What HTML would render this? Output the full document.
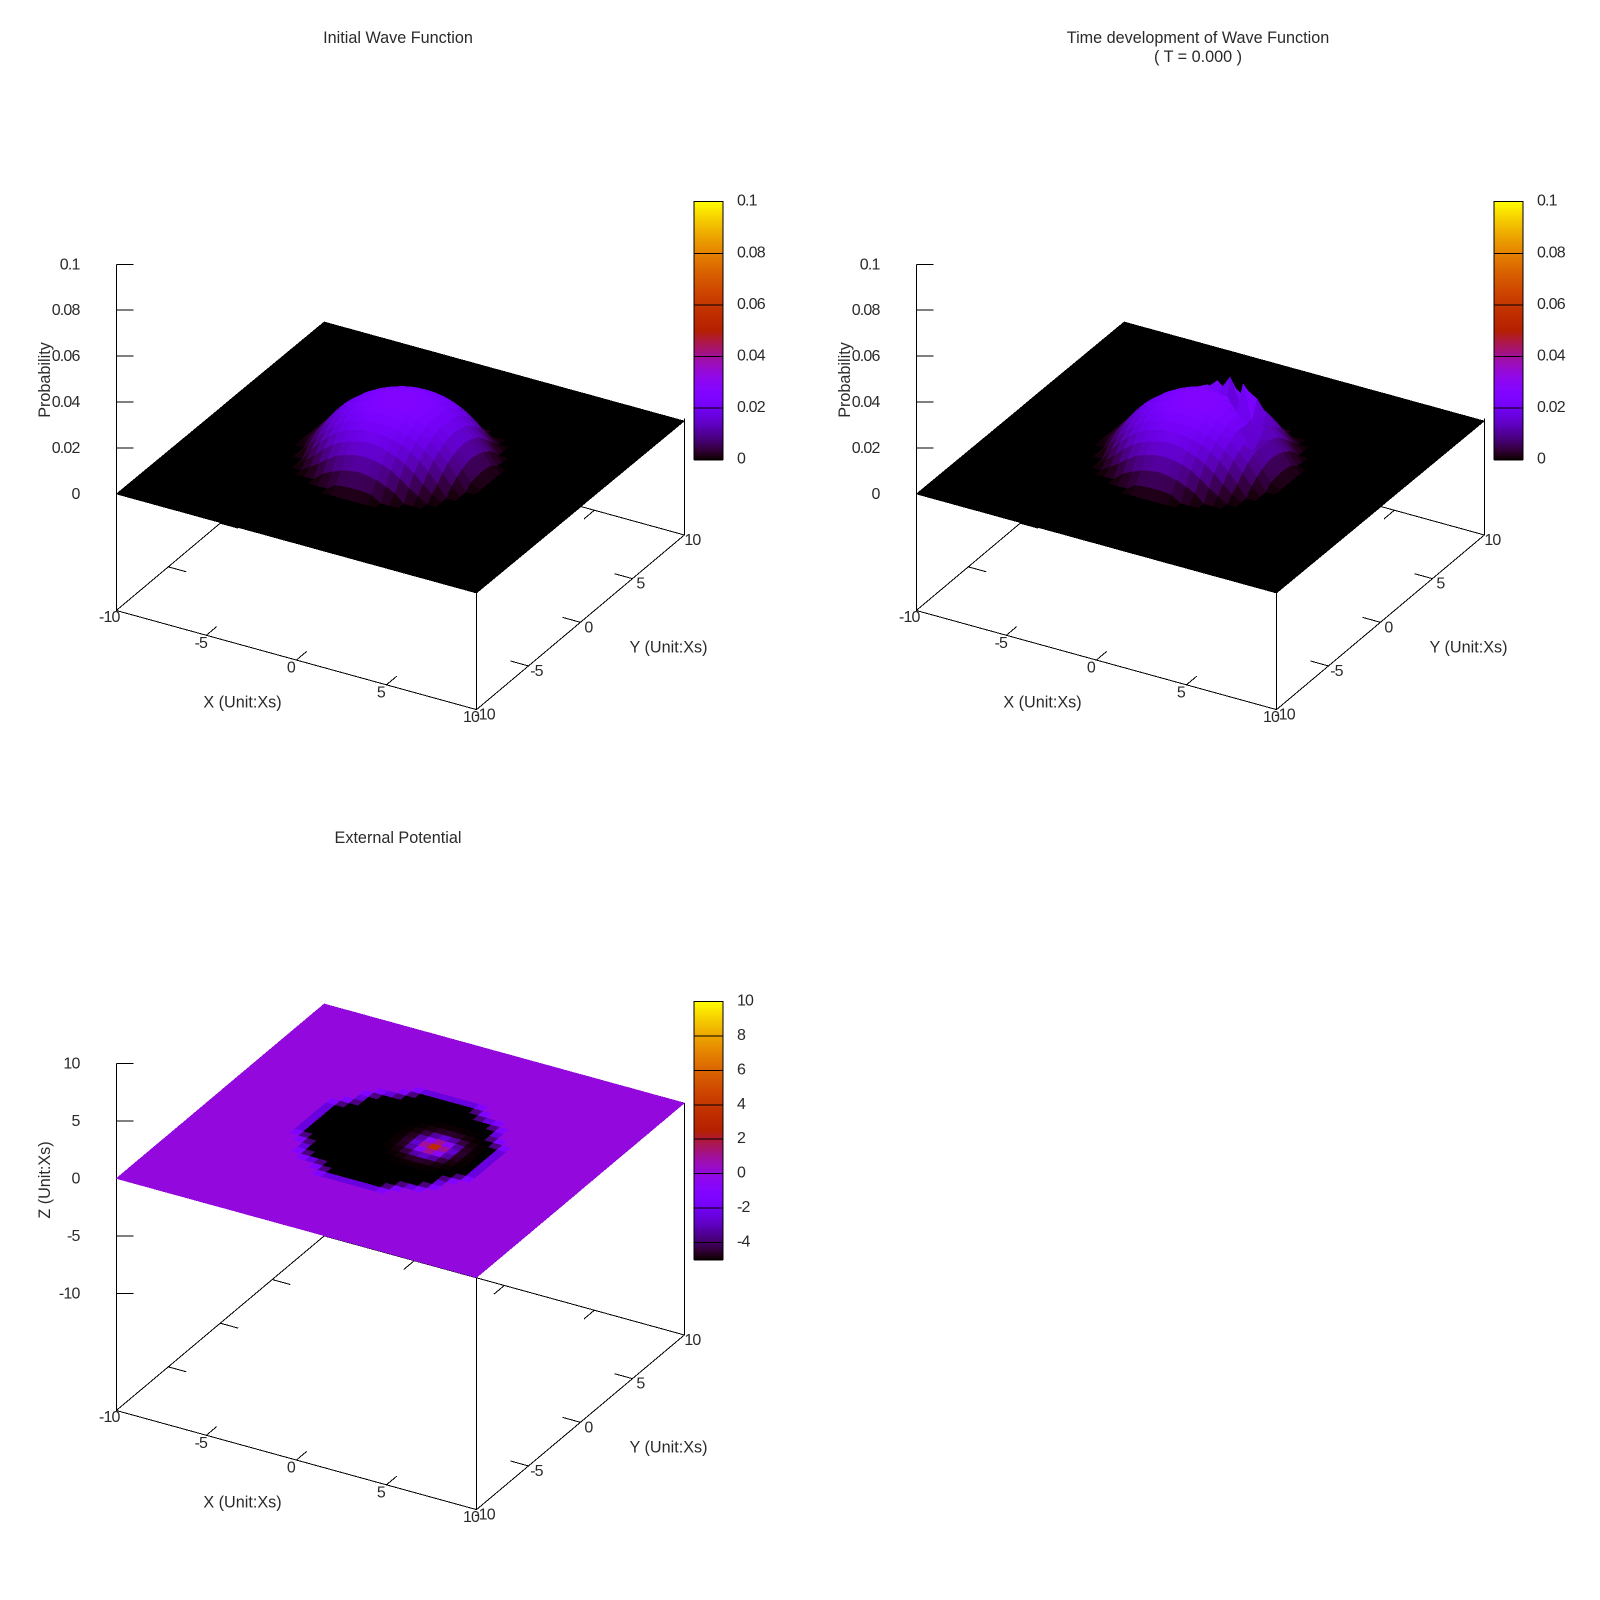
<!DOCTYPE html>
<html>
<head>
<meta charset="utf-8">
<title>Wave Function Plots</title>
<style>
html,body{margin:0;padding:0;background:#fff;}
svg{display:block;position:absolute;left:0;top:0;}
text{font-family:"Liberation Sans",Arial,sans-serif;fill:#2a2a2a;}
.lbl{font-size:16.2px;}
.num{font-size:16px;letter-spacing:-0.85px;}
</style>
</head>
<body>
<svg id="chart" xmlns="http://www.w3.org/2000/svg" width="1600" height="1600" viewBox="0 0 1600 1600">
<rect x="0" y="0" width="1600" height="1600" fill="#fff"/>
<g id="p1"></g>
<g id="p2" transform="translate(800,0)"></g>
<g id="p3" transform="translate(0,800)"></g>
<text class="lbl" x="398" y="43" text-anchor="middle">Initial Wave Function</text>
<text class="lbl" x="1198" y="43" text-anchor="middle">Time development of Wave Function</text>
<text class="lbl" x="1198" y="62" text-anchor="middle">( T = 0.000 )</text>
<text class="lbl" x="398" y="843" text-anchor="middle">External Potential</text>
<text class="lbl" x="242.5" y="707.5" text-anchor="middle">X (Unit:Xs)</text>
<text class="lbl" x="668.5" y="652.5" text-anchor="middle">Y (Unit:Xs)</text>
<text class="lbl" x="0" y="0" text-anchor="middle" transform="translate(50,380) rotate(-90)">Probability</text>
<text class="lbl" x="1042.5" y="707.5" text-anchor="middle">X (Unit:Xs)</text>
<text class="lbl" x="1468.5" y="652.5" text-anchor="middle">Y (Unit:Xs)</text>
<text class="lbl" x="0" y="0" text-anchor="middle" transform="translate(850,380) rotate(-90)">Probability</text>
<text class="lbl" x="242.5" y="1507.5" text-anchor="middle">X (Unit:Xs)</text>
<text class="lbl" x="668.5" y="1452.5" text-anchor="middle">Y (Unit:Xs)</text>
<text class="lbl" x="0" y="0" text-anchor="middle" transform="translate(50,1180) rotate(-90)">Z (Unit:Xs)</text>
</svg>
<script>
// Axis data
const xTickValues = [-10, -5, 0, 5, 10];
const yTickValues = [-10, -5, 0, 5, 10];
const probZTicks = [0, 0.02, 0.04, 0.06, 0.08, 0.1];
const potZTicks = [-10, -5, 0, 5, 10];
const probCbTicks = [0, 0.02, 0.04, 0.06, 0.08, 0.1];
const potCbTicks = [-4, -2, 0, 2, 4, 6, 8, 10];

// Probability x 1000 on grid nodes x,y = -5..5 step 0.5 (rows: y ascending, columns: x ascending). Zero elsewhere.
const probInitialRows = [
[0,0,0,0,0,0,0,0,0,0,0,0,0,0,0,0,0,0,0,0,0],
[0,0,0,0,0,0,0,0,2.5,3,3.2,3,2.5,0,0,0,0,0,0,0,0],
[0,0,0,0,0,0,3.5,5.5,7,8,8.5,8,7,5.5,3.5,0,0,0,0,0,0],
[0,0,0,0,2.5,5,8,10.5,12,13,13.3,13,12,10.5,8,5,2.5,0,0,0,0],
[0,0,0,2.5,5.8,9.5,12.4,14.5,16,17,17.5,17,16,14.5,12.4,9.5,5.8,2.5,0,0,0],
[0,0,0,5,9.5,13,15.7,18.0,19.2,19.9,20.1,19.9,19.2,18.0,15.7,13,9.5,5,0,0,0],
[0,0,3.5,8,12.4,15.7,18.4,20.1,21.3,22.1,22.3,22.1,21.3,20.1,18.4,15.7,12.4,8,3.5,0,0],
[0,0,5.5,10.5,14.5,18.0,20.1,21.8,23.0,23.8,24.0,23.8,23.0,21.8,20.1,18.0,14.5,10.5,5.5,0,0],
[0,2.5,7,12,16,19.2,21.3,23.0,24.3,25.0,25.2,25.0,24.3,23.0,21.3,19.2,16,12,7,2.5,0],
[0,3,8,13,17,19.9,22.1,23.8,25.0,25.7,26.0,25.7,25.0,23.8,22.1,19.9,17,13,8,3,0],
[0,3.2,8.5,13.3,17.5,20.1,22.3,24.0,25.2,26.0,26.2,26.0,25.2,24.0,22.3,20.1,17.5,13.3,8.5,3.2,0],
[0,3,8,13,17,19.9,22.1,23.8,25.0,25.7,26.0,25.7,25.0,23.8,22.1,19.9,17,13,8,3,0],
[0,2.5,7,12,16,19.2,21.3,23.0,24.3,25.0,25.2,25.0,24.3,23.0,21.3,19.2,16,12,7,2.5,0],
[0,0,5.5,10.5,14.5,18.0,20.1,21.8,23.0,23.8,24.0,23.8,23.0,21.8,20.1,18.0,14.5,10.5,5.5,0,0],
[0,0,3.5,8,12.4,15.7,18.4,20.1,21.3,22.1,22.3,22.1,21.3,20.1,18.4,15.7,12.4,8,3.5,0,0],
[0,0,0,5,9.5,13,15.7,18.0,19.2,19.9,20.1,19.9,19.2,18.0,15.7,13,9.5,5,0,0,0],
[0,0,0,2.5,5.8,9.5,12.4,14.5,16,17,17.5,17,16,14.5,12.4,9.5,5.8,2.5,0,0,0],
[0,0,0,0,2.5,5,8,10.5,12,13,13.3,13,12,10.5,8,5,2.5,0,0,0,0],
[0,0,0,0,0,0,3.5,5.5,7,8,8.5,8,7,5.5,3.5,0,0,0,0,0,0],
[0,0,0,0,0,0,0,0,2.5,3,3.2,3,2.5,0,0,0,0,0,0,0,0],
[0,0,0,0,0,0,0,0,0,0,0,0,0,0,0,0,0,0,0,0,0]
];

const probEvolvedRows = [
[0,0,0,0,0,0,0,0,0,0,0,0,0,0,0,0,0,0,0,0,0],
[0,0,0,0,0,0,0,0,2.5,3,3.2,3,2.5,0,0,0,0,0,0,0,0],
[0,0,0,0,0,0,3.5,5.5,7,8,8.5,8,7,5.5,3.5,0,0,0,0,0,0],
[0,0,0,0,2.5,5,8,10.5,12,13,13.3,13,12,10.5,8,5,2.5,0,0,0,0],
[0,0,0,2.5,5.8,9.5,12.4,14.5,16,17,17.5,17,16,14.5,12.4,9.5,5.8,2.5,0,0,0],
[0,0,0,5,9.5,13,15.7,18.0,19.2,19.9,20.1,19.9,19.2,18.0,15.7,13,9.5,5,0,0,0],
[0,0,3.5,8,12.4,15.7,18.4,20.1,21.3,22.1,22.3,22.1,21.3,20.1,18.4,15.7,12.4,8,3.5,0,0],
[0,0,5.5,10.5,14.5,18.0,20.1,21.8,23.0,23.8,24.0,23.8,23.0,21.8,20.1,18.0,14.5,10.5,5.5,0,0],
[0,2.5,7,12,16,19.2,21.3,23.0,24.3,25.0,25.2,25.0,24.3,23.0,21.3,19.2,16,12,7,2.5,0],
[0,3,8,13,17,19.9,22.1,23.8,25.0,25.7,26.0,25.7,25.0,23.8,22.1,19.9,12,13,8,3,0],
[0,3.2,8.5,13.3,17.5,20.1,22.3,24.0,25.2,26.0,26.2,26.0,25.2,24.0,22.3,19,10,12,8.5,3.2,0],
[0,3,8,13,17,19.9,22.1,23.8,25.0,25.7,26.0,25.7,25.0,23.8,19,20,12,13,8,3,0],
[0,2.5,7,12,16,19.2,21.3,23.0,24.3,25.0,25.2,25.0,24.3,14,21,14,16,12,7,2.5,0],
[0,0,5.5,10.5,14.5,18.0,20.1,21.8,23.0,25,18,8,10,29.6,14,12,14.5,10.5,5.5,0,0],
[0,0,3.5,8,12.4,15.7,18.4,20.1,21.3,22.1,22.3,28.6,19,24.6,22.2,16.8,12.4,8,3.5,0,0],
[0,0,0,5,9.5,13,15.7,18.0,19.2,23,20.1,22,19.2,18.0,15.7,13,9.5,5,0,0,0],
[0,0,0,2.5,5.8,9.5,12.4,14.5,16,17,17.5,17,16,14.5,12.4,9.5,5.8,2.5,0,0,0],
[0,0,0,0,2.5,5,8,10.5,12,13,13.3,13,12,10.5,8,5,2.5,0,0,0,0],
[0,0,0,0,0,0,3.5,5.5,7,8,8.5,8,7,5.5,3.5,0,0,0,0,0,0],
[0,0,0,0,0,0,0,0,2.5,3,3.2,3,2.5,0,0,0,0,0,0,0,0],
[0,0,0,0,0,0,0,0,0,0,0,0,0,0,0,0,0,0,0,0,0]
];

// External potential on the same node window. Zero elsewhere.
const potentialRows = [
[0,0,0,0,0,0,0,0,0,0,0,0,0,0,0,0,0,0,0,0,0],
[0,0,0,0,0,0,0,-5,-5,-5,-5,-5,-5,-5,0,0,0,0,0,0,0],
[0,0,0,0,0,0,-5,-5,-5,-5,-5,-5,-5,-5,-5,0,0,0,0,0,0],
[0,0,0,0,-5,-5,-5,-5,-5,-5,-5,-5,-5,-5,-5,-5,-5,0,0,0,0],
[0,0,0,-5,-5,-5,-5,-5,-5,-5,-5,-5,-5,-5,-5,-5,-5,-5,0,0,0],
[0,0,0,-5,-5,-5,-5,-5,-5,-5,-5,-5,-5,-5,-5,-5,-5,-5,0,0,0],
[0,0,-5,-5,-5,-5,-5,-5,-5,-5,-5,-5,-5,-5,-5,-5,-5,-5,-5,0,0],
[0,-5,-5,-5,-5,-5,-5,-5,-5,-5,-5,-5,-4.97,-4.93,-4.93,-4.97,-5,-5,-5,-5,0],
[0,-5,-5,-5,-5,-5,-5,-5,-5,-5,-5,-4.93,-4.65,-4.22,-4.22,-4.65,-4.93,-5,-5,-5,0],
[0,-5,-5,-5,-5,-5,-5,-5,-5,-5,-4.97,-4.65,-3.29,-1.25,-1.25,-3.29,-4.65,-4.97,-5,-5,0],
[0,-5,-5,-5,-5,-5,-5,-5,-5,-5,-4.93,-4.22,-1.25,3.25,3.25,-1.25,-4.22,-4.93,-5,-5,0],
[0,-5,-5,-5,-5,-5,-5,-5,-5,-5,-4.93,-4.22,-1.25,3.25,3.25,-1.25,-4.22,-4.93,-5,-5,0],
[0,-5,-5,-5,-5,-5,-5,-5,-5,-5,-4.97,-4.65,-3.29,-1.25,-1.25,-3.29,-4.65,-4.97,-5,-5,0],
[0,-5,-5,-5,-5,-5,-5,-5,-5,-5,-5,-4.93,-4.65,-4.22,-4.22,-4.65,-4.93,-5,-5,-5,0],
[0,0,-5,-5,-5,-5,-5,-5,-5,-5,-5,-5,-4.97,-4.93,-4.93,-4.97,-5,-5,-5,0,0],
[0,0,0,-5,-5,-5,-5,-5,-5,-5,-5,-5,-5,-5,-5,-5,-5,-5,0,0,0],
[0,0,0,-5,-5,-5,-5,-5,-5,-5,-5,-5,-5,-5,-5,-5,-5,-5,0,0,0],
[0,0,0,0,-5,-5,-5,-5,-5,-5,-5,-5,-5,-5,-5,-5,-5,0,0,0,0],
[0,0,0,0,0,0,-5,-5,-5,-5,-5,-5,-5,-5,-5,0,0,0,0,0,0],
[0,0,0,0,0,0,0,-5,-5,-5,-5,-5,-5,-5,0,0,0,0,0,0,0],
[0,0,0,0,0,0,0,0,0,0,0,0,0,0,0,0,0,0,0,0,0]
];

const NS = 'http://www.w3.org/2000/svg';
const GRID_CELLS = 40;
const WINDOW_START = 10;

// Projection: x=-10,y=-10 is the left base corner
const LEFT_X = 116.3, BASE_Y = 610.5;
const XV = [360.2, 99.1], YV = [207.9, -174.6];
function sx(x, y) { return LEFT_X + (x + 10) / 20 * XV[0] + (y + 10) / 20 * YV[0]; }
function sy(x, y) { return BASE_Y + (x + 10) / 20 * XV[1] + (y + 10) / 20 * YV[1]; }

function make(tag, parent, attrs) {
  const e = document.createElementNS(NS, tag);
  for (const k in attrs) e.setAttribute(k, attrs[k]);
  parent.appendChild(e);
  return e;
}
function palette(t) {
  t = Math.max(0, Math.min(1, t));
  const r = Math.sqrt(t), g = t * t * t, b = Math.max(0, Math.sin(2 * Math.PI * t));
  return 'rgb(' + Math.round(r * 255) + ',' + Math.round(g * 255) + ',' + Math.round(b * 255) + ')';
}
function nodeValue(rows, i, j) {
  const c = i - WINDOW_START, r = j - WINDOW_START;
  if (r < 0 || r >= rows.length || c < 0 || c >= rows[r].length) return 0;
  return rows[r][c];
}
function axisLine(g, x1, y1, x2, y2, name) {
  const l = make('line', g, {x1: x1, y1: y1, x2: x2, y2: y2, stroke: '#000', 'stroke-width': 1, 'shape-rendering': 'crispEdges'});
  
  
  return l;
}
function tickLabel(g, x, yCenter, str, anchor, name) {
  const t = make('text', g, {x: x, y: yCenter + 5.5, 'text-anchor': anchor, 'class': 'num'});
  t.textContent = str;
  
  
  return t;
}

function drawPanel(g, cfg) {
  const zY = function (z) { return cfg.lift(z); };
  // base frame
  axisLine(g, sx(-10, -10), sy(-10, -10), sx(10, -10), sy(10, -10), 'x-axis-front');
  axisLine(g, sx(10, -10), sy(10, -10), sx(10, 10), sy(10, 10), 'y-axis-front');
  axisLine(g, sx(-10, -10), sy(-10, -10), sx(-10, 10), sy(-10, 10), 'y-axis-back');
  axisLine(g, sx(-10, 10), sy(-10, 10), sx(10, 10), sy(10, 10), 'x-axis-back');
  // verticals
  const zTop = cfg.zTicks[cfg.zTicks.length - 1];
  axisLine(g, sx(-10, -10), sy(-10, -10), sx(-10, -10), BASE_Y - zY(zTop), 'z-axis');
  axisLine(g, sx(10, -10), sy(10, -10), sx(10, -10), sy(10, -10) - zY(cfg.planeZ), 'front-vertical-edge');
  axisLine(g, sx(10, 10), sy(10, 10), sx(10, 10), sy(10, 10) - zY(cfg.planeZ), 'right-vertical-edge');
  // x/y ticks
  const tx = 0.05;
  xTickValues.forEach(function (v) {
    if (Math.abs(v) === 10) return;
    axisLine(g, sx(v, -10), sy(v, -10), sx(v, -10) + tx * YV[0], sy(v, -10) + tx * YV[1], 'x-tick-front');
    axisLine(g, sx(v, 10), sy(v, 10), sx(v, 10) - tx * YV[0], sy(v, 10) - tx * YV[1], 'x-tick-back');
  });
  yTickValues.forEach(function (v) {
    if (Math.abs(v) === 10) return;
    axisLine(g, sx(10, v), sy(10, v), sx(10, v) - tx * XV[0], sy(10, v) - tx * XV[1], 'y-tick-front');
    axisLine(g, sx(-10, v), sy(-10, v), sx(-10, v) + tx * XV[0], sy(-10, v) + tx * XV[1], 'y-tick-back');
  });
  // x/y tick labels
  xTickValues.forEach(function (v) {
    const dx = v === -10 ? -7 : -5.5;
    const dy = v === -10 ? 6 : 7;
    tickLabel(g, sx(v, -10) + dx, sy(v, -10) + dy, String(v), 'middle', 'x-tick-label');
  });
  yTickValues.forEach(function (v) {
    tickLabel(g, sx(10, v) + 8, sy(10, v) + 4.5, String(v), 'middle', 'y-tick-label');
  });
  // z ticks
  cfg.zTicks.forEach(function (z) {
    const y = BASE_Y - zY(z);
    axisLine(g, LEFT_X, y, LEFT_X + 17, y, 'z-tick');
    tickLabel(g, 79.5, y - 0.5, String(z), 'end', 'z-tick-label');
  });
  // surface
  const surf = make('g', g, {'shape-rendering': 'crispEdges'});
  
  
  const step = 20 / GRID_CELLS;
  for (let j = GRID_CELLS - 1; j >= 0; j--) {
    for (let i = 0; i < GRID_CELLS; i++) {
      const a = nodeValue(cfg.rows, i, j), b = nodeValue(cfg.rows, i + 1, j);
      const c = nodeValue(cfg.rows, i + 1, j + 1), d = nodeValue(cfg.rows, i, j + 1);
      const mean = (a + b + c + d) / 4;
      const x0 = -10 + i * step, x1 = x0 + step, y0 = -10 + j * step, y1 = y0 + step;
      const pt = function (x, y, v) {
        const tilt = (y + 10) / 20 * cfg.planeTilt;
        return sx(x, y).toFixed(1) + ',' + (sy(x, y) + tilt - zY(cfg.height(v))).toFixed(1);
      };
      const col = palette((cfg.value(mean) - cfg.cbMin) / (cfg.cbMax - cfg.cbMin));
      const p = make('polygon', surf, {
        points: pt(x0, y0, a) + ' ' + pt(x1, y0, b) + ' ' + pt(x1, y1, c) + ' ' + pt(x0, y1, d),
        fill: col, stroke: col, 'stroke-width': 0.6
      });
      
      
    }
  }
  // colour box
  const CB_X = 694, CB_W = 29, CB_TOP = 201.7, CB_H = 257.8;
  const cbY = function (v) { return CB_TOP + CB_H - (v - cfg.cbMin) / (cfg.cbMax - cfg.cbMin) * CB_H; };
  const box = make('g', g, {'shape-rendering': 'crispEdges'});
  
  
  const CB_STEPS = 129;
  for (let k = 0; k < CB_STEPS; k++) {
    const t = 1 - (k + 0.5) / CB_STEPS;
    const r = make('rect', box, {x: CB_X, y: CB_TOP + k * CB_H / CB_STEPS, width: CB_W, height: CB_H / CB_STEPS + 1, fill: palette(t)});
    
    
  }
  const frame = make('rect', box, {x: CB_X, y: CB_TOP, width: CB_W, height: CB_H, fill: 'none', stroke: '#000', 'stroke-width': 1});
  
  
  cfg.cbTicks.forEach(function (v) {
    const y = cbY(v);
    axisLine(box, CB_X, y, CB_X + CB_W, y, 'colorbar-tick');
    tickLabel(g, 737, y - 1.5, String(v), 'start', 'colorbar-tick-label');
  });
}

const probLift = function (z) { return 116.5 + z * 2297; };
const potLift = function (z) { return 232 + z * 11.5; };

drawPanel(document.getElementById('p1'), {
  rows: probInitialRows, zTicks: probZTicks, cbTicks: probCbTicks, lift: probLift, planeZ: 0, planeTilt: 2.5,
  height: function (v) { return v / 1000; }, value: function (v) { return v / 1000; }, cbMin: 0, cbMax: 0.1
});
drawPanel(document.getElementById('p2'), {
  rows: probEvolvedRows, zTicks: probZTicks, cbTicks: probCbTicks, lift: probLift, planeZ: 0, planeTilt: 2.5,
  height: function (v) { return v / 1000; }, value: function (v) { return v / 1000; }, cbMin: 0, cbMax: 0.1
});
drawPanel(document.getElementById('p3'), {
  rows: potentialRows, zTicks: potZTicks, cbTicks: potCbTicks, lift: potLift, planeZ: 0, planeTilt: 0,
  height: function () { return 0; }, value: function (v) { return v; }, cbMin: -5, cbMax: 10
});
</script>
</body>
</html>
